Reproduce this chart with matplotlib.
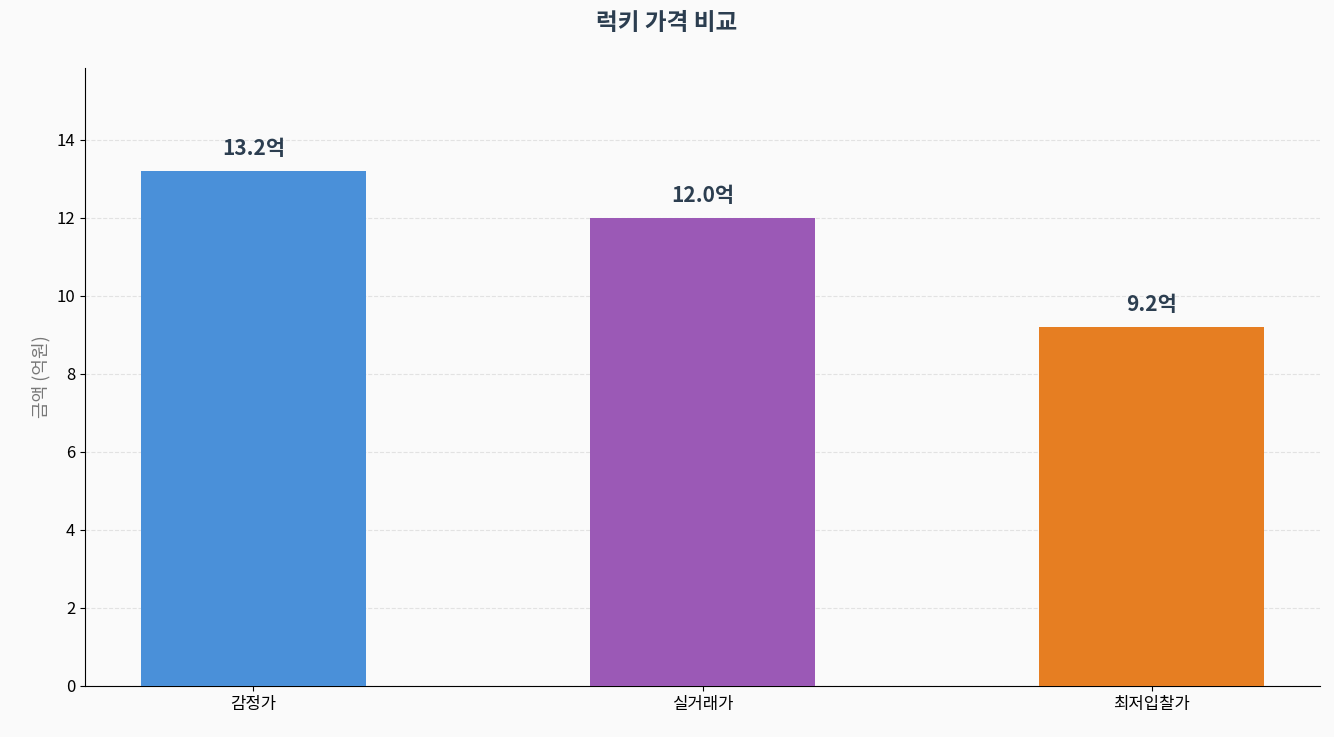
import matplotlib
matplotlib.use("Agg")
import matplotlib.pyplot as plt

plt.rcParams['font.family'] = ['Noto Sans CJK KR', 'DejaVu Sans']

categories = ['감정가', '실거래가', '최저입찰가']
values = [13.2, 12.0, 9.2]
colors = ['#4A90D9', '#9B59B6', '#E67E22']

fig = plt.figure(figsize=(13.34, 7.37), dpi=100, facecolor='#fafafa')
ax = fig.add_axes([85/1334, 1-686/737, (1320-85)/1334, (686-68)/737])
ax.set_facecolor('#fafafa')
bars = ax.bar(categories, values, width=0.5, color=colors, zorder=3)
for b, v in zip(bars, values):
    ax.text(b.get_x()+b.get_width()/2, v+0.3, f'{v:.1f}억', ha='center', va='bottom',
            fontsize=15, fontweight='bold', color='#2c3e50')
ax.set_ylim(0, max(values)*1.2)
ax.grid(axis='y', linestyle='--', color='#dddddd', alpha=0.8, zorder=0)
ax.spines['top'].set_visible(False)
ax.spines['right'].set_visible(False)
ax.set_ylabel('금액 (억원)', fontsize=13, color='#777777')
ax.tick_params(labelsize=12)
fig.suptitle('럭키 가격 비교', fontsize=17, fontweight='bold', color='#2c3e50', y=0.985)
fig.savefig('out.png', dpi=100, facecolor='#fafafa')
